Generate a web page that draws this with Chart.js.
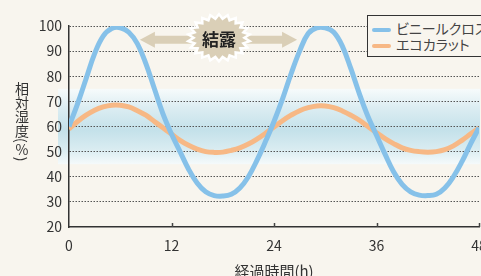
<!DOCTYPE html>
<html lang="ja">
<head>
<meta charset="UTF-8">
<title>相対湿度の変化</title>
<script src="https://cdn.jsdelivr.net/npm/chart.js"></script>
<style>
  html, body { margin: 0; padding: 0; background: #f8f5ee; overflow: hidden; }
  body { width: 481px; height: 276px; position: relative; font-family: 'Noto Sans CJK JP', sans-serif; color: #333; }
  #wrap { position: absolute; left: 0; top: 0; width: 500px; height: 285px; }
  #yTitle { position: absolute; left: 14px; top: 82px; writing-mode: vertical-rl; font-size: 14px; line-height: 16px; }
  #yTitle .up { text-orientation: upright; }
  .legend { position: absolute; left: 367px; top: 15px; border: 1.5px solid #333; padding: 4px 12px 4px 4px;
            font-size: 14px; line-height: 16px; white-space: nowrap; background: #f8f5ee; color: #444;
            font-feature-settings: "palt"; }
  .legend .sw { display: inline-block; width: 19px; height: 4px; border-radius: 2px; margin-right: 5px; vertical-align: middle; }
</style>
</head>
<body>
<div id="wrap"><canvas id="humidityChart" width="500" height="285"></canvas></div>
<div id="yTitle">相対湿度(<span class="up">%</span>)</div>
<div class="legend">
  <div><span class="sw" style="background:#86c1e9"></span>ビニールクロス</div>
  <div><span class="sw" style="background:#f7b885"></span>エコカラット</div>
</div>

<script>
// 経過時間 (h)
const hours = [0, 1, 2, 3, 4, 5, 6, 7, 8, 9, 10, 11, 12, 13, 14, 15, 16, 17, 18, 19, 20, 21, 22, 23, 24,
               25, 26, 27, 28, 29, 30, 31, 32, 33, 34, 35, 36, 37, 38, 39, 40, 41, 42, 43, 44, 45, 46, 47, 48];
// ビニールクロス 相対湿度 (%)
const vinylCloth = [60, 69, 79, 89, 96, 99, 99.3, 97.5, 93, 85, 75, 65, 57, 50, 43, 37.5, 34, 32.5, 32.3, 33, 35.5, 40, 46.5, 54, 62,
                    71, 81, 90, 97, 99.3, 99.3, 97.5, 92, 83, 73, 64, 56.5, 49, 42, 37, 34, 32.7, 32.5, 33, 35.5, 40, 46, 53, 59.5];
// エコカラット 相対湿度 (%)
const ecoCarat = [59, 62, 64.5, 66.5, 67.8, 68.5, 68.5, 67.8, 66.3, 64.5, 62, 59.5, 57, 54.5, 52.5, 51, 50, 49.7, 49.8, 50.5, 51.5, 53, 55, 57.3, 59.8,
                  62.3, 64.5, 66.3, 67.5, 68.2, 68.2, 67.5, 66.2, 64.5, 62.5, 60, 57.5, 55.2, 53.2, 51.5, 50.5, 50, 49.8, 50, 50.8, 52.3, 54.5, 57, 59.5];
const xTicks = [0, 12, 24, 36, 48];
const yTicks = [20, 30, 40, 50, 60, 70, 80, 90, 100];
// 快適ゾーン (%)
const comfortBand = [45, 75];
// 結露 annotation: centre and arrow tips (h, %)
const dewCenter = [17.56, 95.3];
const dewArrowTips = [8.3, 26.7];

const FONT = "'Noto Sans CJK JP', sans-serif";

const decorPlugin = {
    id: 'decor',
    beforeDraw(chart) {
        const {ctx, chartArea, scales: {y}} = chart;
        const top = y.getPixelForValue(comfortBand[1]);
        const bottom = y.getPixelForValue(comfortBand[0]);
        const g = ctx.createLinearGradient(0, top, 0, bottom);
        g.addColorStop(0, '#f7fbfb');
        g.addColorStop(0.25, '#dcedf2');
        g.addColorStop(0.55, '#c4e1ea');
        g.addColorStop(0.8, '#d9ecf1');
        g.addColorStop(1, '#f5fafb');
        ctx.save();
        ctx.fillStyle = g;
        ctx.fillRect(chartArea.left - 11, top, chartArea.right - chartArea.left + 12, bottom - top);
        ctx.restore();
    },
    afterDraw(chart) {
        const {ctx, chartArea, scales: {x, y}} = chart;
        ctx.save();
        // small inner tick marks on the time axis
        ctx.strokeStyle = '#444';
        ctx.lineWidth = 1.5;
        xTicks.slice(1).forEach(v => {
            const px = Math.round(x.getPixelForValue(v)) + 0.5;
            ctx.beginPath();
            ctx.moveTo(px, chartArea.bottom);
            ctx.lineTo(px, chartArea.bottom - 4);
            ctx.stroke();
        });

        // 結露 arrows
        const cx = x.getPixelForValue(dewCenter[0]);
        const cy = y.getPixelForValue(dewCenter[1]);
        const ay = cy + 2;
        ctx.fillStyle = '#dacfb7';
        [[x.getPixelForValue(dewArrowTips[0]), -1], [x.getPixelForValue(dewArrowTips[1]), 1]].forEach(([tip, dir]) => {
            const head = tip - dir * 15;
            const base = cx + dir * 20;
            ctx.beginPath();
            ctx.moveTo(tip, ay);
            ctx.lineTo(head, ay - 8);
            ctx.lineTo(head, ay - 4);
            ctx.lineTo(base, ay - 4);
            ctx.lineTo(base, ay + 4);
            ctx.lineTo(head, ay + 4);
            ctx.lineTo(head, ay + 8);
            ctx.closePath();
            ctx.fill();
        });

        // starburst
        const n = 22, rx = 31, ry = 23.5;
        ctx.beginPath();
        for (let i = 0; i < n * 2; i++) {
            const a = Math.PI * i / n - Math.PI / 2;
            const k = i % 2 ? 0.82 : 1;
            ctx.lineTo(cx + Math.cos(a) * rx * k, cy + Math.sin(a) * ry * k);
        }
        ctx.closePath();
        ctx.fillStyle = '#dacfb7';
        ctx.fill();
        ctx.strokeStyle = '#fff';
        ctx.lineWidth = 2.5;
        ctx.stroke();

        ctx.fillStyle = '#222';
        ctx.font = 'bold 17px ' + FONT;
        ctx.textAlign = 'center';
        ctx.textBaseline = 'middle';
        ctx.fillText('結露', cx, cy + 1.5);
        ctx.restore();
    }
};

new Chart(document.getElementById('humidityChart'), {
    type: 'line',
    data: {
        datasets: [
            {
                label: 'ビニールクロス',
                data: hours.map((h, i) => ({x: h, y: vinylCloth[i]})),
                borderColor: '#86c1e9',
                borderWidth: 5,
                pointRadius: 0,
                tension: 0.4
            },
            {
                label: 'エコカラット',
                data: hours.map((h, i) => ({x: h, y: ecoCarat[i]})),
                borderColor: '#f7b885',
                borderWidth: 5,
                pointRadius: 0,
                tension: 0.4
            }
        ]
    },
    options: {
        responsive: false,
        animation: false,
        layout: { padding: { top: 26, right: 21, left: 0, bottom: 0 } },
        plugins: { legend: { display: false }, tooltip: { enabled: false } },
        scales: {
            x: {
                type: 'linear',
                min: 0,
                max: 48,
                afterBuildTicks: s => { s.ticks = xTicks.map(v => ({value: v})); },
                afterFit: s => { s.height = 58; },
                grid: { display: true, drawOnChartArea: false, drawTicks: false },
                border: { display: true, color: '#333', width: 1.5 },
                ticks: { padding: 10, color: '#333', font: { family: FONT, size: 14 } },
                title: { display: true, text: '経過時間(h)', color: '#333', padding: { top: 0, bottom: 5 },
                         font: { family: FONT, size: 15 } }
            },
            y: {
                min: 20,
                max: 100,
                afterBuildTicks: s => { s.ticks = yTicks.map(v => ({value: v})); },
                afterFit: s => { s.width = 69; },
                grid: {
                    drawTicks: false,
                    lineWidth: 1,
                    color: c => c.tick && c.tick.value === 20 ? 'rgba(0,0,0,0)' : '#555'
                },
                border: { display: true, color: '#333', width: 1.5, dash: [1.5, 1.5] },
                ticks: { padding: 7, color: '#333', font: { family: FONT, size: 14 } }
            }
        }
    },
    plugins: [decorPlugin]
});
</script>
</body>
</html>
